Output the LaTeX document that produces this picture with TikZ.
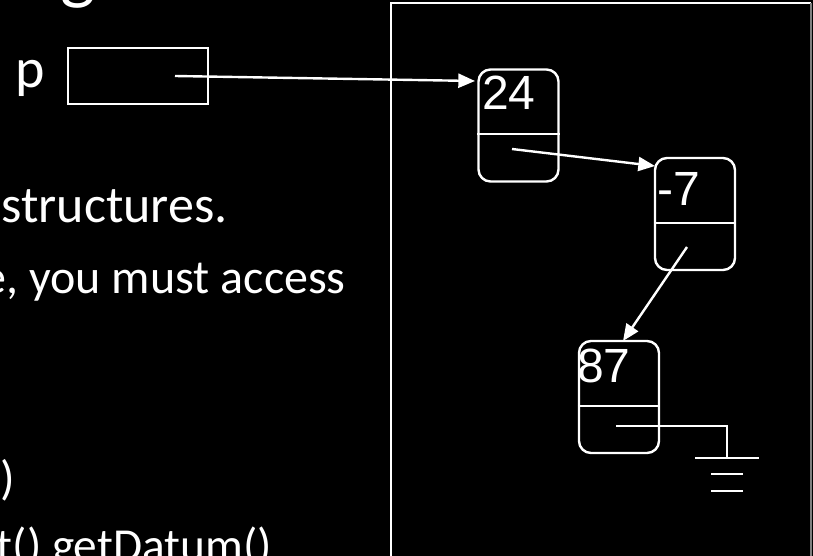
\documentclass[tikz,border=0pt]{standalone}
\usepackage{fontspec}
\setmainfont{Carlito}
\newfontfamily\numfont{Liberation Sans}
\usetikzlibrary{arrows.meta}
\tikzset{
  every picture/.style={x=0.75pt,y=-0.75pt},
  slidetext/.style={text=white,inner sep=0pt,font=\fontsize{39}{44}\selectfont},
  listnode/.style={draw=white,line width=1.8pt,rounded corners=9pt,minimum width=60pt,minimum height=84pt,inner sep=0pt},
  pbox/.style={draw=white,line width=1.8pt,minimum width=105pt,minimum height=42pt,inner sep=0pt},
  numtext/.style={text=white,inner sep=0pt,font=\numfont\fontsize{36}{40}\selectfont},
  link/.style={draw=white,line width=1.8pt,-{Triangle[length=12.5pt,width=10.5pt]}},
  wire/.style={draw=white,line width=1.8pt},
}
\begin{document}
\begin{tikzpicture}
\useasboundingbox (0,0) rectangle (813,556);
\fill[black] (0,0) rectangle (813,556);

% cropped slide text on the left
\node[slidetext,anchor=base west,font=\fontsize{56}{60}\selectfont] (title) at (60,-4) {g};
\node[slidetext,anchor=base west,font=\fontsize{42}{46}\selectfont] (plabel) at (15,88) {p};
\node[slidetext,anchor=base east] (l1) at (228,222) {structures.};
\node[slidetext,anchor=base east,font=\fontsize{36}{42}\selectfont] (l2) at (346,293) {e, you must access};
\node[slidetext,anchor=base east,font=\fontsize{36}{40}\selectfont] (l3) at (15,494) {)};
\node[slidetext,anchor=base east,font=\fontsize{35.5}{40}\selectfont] (l4) at (272,561) {t() getDatum()};

% frame of the picture on the right
\draw[white,line width=2pt] (391,570) |- (811,3);
\draw[gray,line width=1pt] (811,3) -- (811,570);

% variable p
\node[pbox] (p) at (138,76) {};
\coordinate (pstart) at (175,76);
\coordinate (p24) at (475,81);

% list nodes
\node[listnode] (n24) at (518.5,125.5) {};
\node[listnode] (n7) at (695,214) {};
\node[listnode] (n87) at (619,397) {};

\draw[wire] (n24.west |- 0,134) -- (n24.east |- 0,134);
\draw[wire] (n7.west |- 0,223) -- (n7.east |- 0,223);
\draw[wire] (n87.west |- 0,406) -- (n87.east |- 0,406);

\node[numtext,anchor=base west] (t24) at (482,110) {24};
\node[numtext,anchor=base west] (t7) at (657,205) {-7};
\node[numtext,anchor=base west] (t87) at (577,382) {87};

\coordinate (s24) at (512,149);
\coordinate (e24) at (655,166);
\coordinate (s7) at (687,247);
\coordinate (e7) at (623,341);
\coordinate (s87) at (616,426);
\coordinate (gnd) at (727,458);

\draw[link] (pstart) -- (p24);
\draw[link] (s24) -- (e24);
\draw[link] (s7) -- (e7);
\draw[wire] (s87) -| (gnd);

% ground symbol
\draw[wire] ([xshift=-24pt]gnd) -- ([xshift=24pt]gnd);
\draw[wire] ([xshift=-12pt,yshift=-12pt]gnd) -- ([xshift=12pt,yshift=-12pt]gnd);
\draw[wire] ([xshift=-12pt,yshift=-24.75pt]gnd) -- ([xshift=12pt,yshift=-24.75pt]gnd);
\end{tikzpicture}
\end{document}
